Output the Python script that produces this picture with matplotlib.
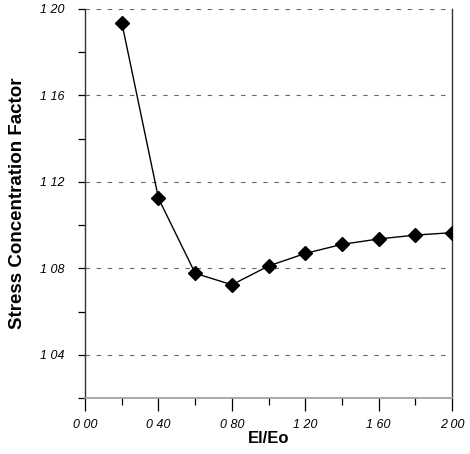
import matplotlib
matplotlib.use("Agg")
import matplotlib.pyplot as plt
from matplotlib.ticker import MultipleLocator, FixedLocator

# ---- data ----
ratio = [0.2, 0.4, 0.6, 0.8, 1.0, 1.2, 1.4, 1.6, 1.8, 2.0]
scf   = [1.1937, 1.1124, 1.0777, 1.0724, 1.0811, 1.0869, 1.0911, 1.0936, 1.0954, 1.0965]

x_ticks  = [0.0, 0.4, 0.8, 1.2, 1.6, 2.0]
x_labels = ["0 00", "0 40", "0 80", "1 20", "1 60", "2 00"]
y_ticks  = [1.04, 1.08, 1.12, 1.16, 1.20]
y_labels = ["1 04", "1 08", "1 12", "1 16", "1 20"]

plt.rcParams["font.family"] = ["Liberation Sans", "DejaVu Sans"]

fig = plt.figure(figsize=(4.7, 4.54), dpi=100)
ax = fig.add_axes([0.181, 0.1233, 0.781, 0.8569])

ax.plot(ratio, scf, color="black", linewidth=1.0,
        marker="D", markersize=7.5, markerfacecolor="black",
        markeredgecolor="black", zorder=3)

ax.set_xlim(0.0, 2.0)
ax.set_ylim(1.02, 1.20)

ax.xaxis.set_major_locator(FixedLocator(x_ticks))
ax.set_xticklabels(x_labels, fontstyle="italic", fontsize=9)
ax.xaxis.set_minor_locator(MultipleLocator(0.2))
ax.yaxis.set_major_locator(FixedLocator(y_ticks))
ax.set_yticklabels(y_labels, fontstyle="italic", fontsize=9)
ax.yaxis.set_minor_locator(MultipleLocator(0.02))

ax.tick_params(axis="x", which="major", direction="out", length=9, width=0.9, pad=6)
ax.tick_params(axis="x", which="minor", direction="out", length=5, width=0.9)
ax.tick_params(axis="y", which="major", direction="out", length=5, width=0.9, pad=10)
ax.tick_params(axis="y", which="minor", direction="out", length=5, width=0.9)

ax.yaxis.grid(True, which="major", linestyle=(0, (4, 6)), color="#666666", linewidth=0.8)

ax.spines["top"].set_visible(False)
for side in ["left", "right"]:
    ax.spines[side].set_color("#333333")
    ax.spines[side].set_linewidth(1.0)
ax.spines["bottom"].set_color("#999999")
ax.spines["bottom"].set_linewidth(1.2)

ax.set_xlabel("El/Eo", fontsize=12, fontweight="bold", labelpad=0)
ax.set_ylabel("Stress Concentration Factor", fontsize=13.5, fontweight="bold", labelpad=10)

fig.savefig("out.png", dpi=100)
